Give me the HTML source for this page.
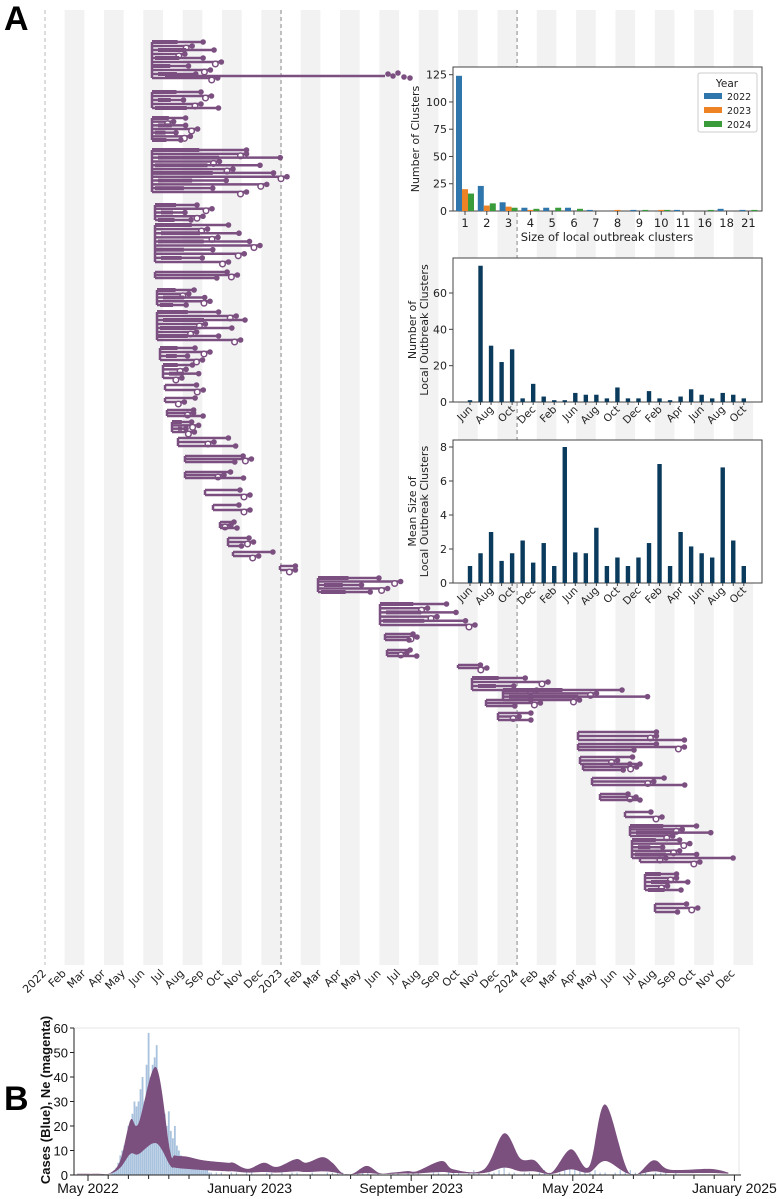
<!DOCTYPE html>
<html><head><meta charset="utf-8"><style>
html,body{margin:0;padding:0;background:#fff;}
svg{display:block;font-family:"DejaVu Sans","Liberation Sans",sans-serif;}
</style></head><body>
<svg id="fig" width="777" height="1199" viewBox="0 0 777 1199" xmlns="http://www.w3.org/2000/svg">
<g id="stripes"></g>
<g id="tree"></g>
<g id="treeAxis"></g>
<text x="4" y="30" font-family="Liberation Sans, sans-serif" font-weight="bold" font-size="34">A</text>
<text x="4" y="1110" font-family="Liberation Sans, sans-serif" font-weight="bold" font-size="34">B</text>
<g id="inset1"></g>
<g id="inset2"></g>
<g id="inset3"></g>
<g id="panelB"></g>
</svg>
<script>
// ---------- Inset 1 data ----------
const sizeCats = ['1','2','3','4','5','6','7','8','9','10','11','16','18','21'];
const count2022 = [124,23,8,3,3,3,1,0,1,0,1,0,2,1];
const count2023 = [20,5,4,1,0,0,0,1,0,1,0,0,0,0];
const count2024 = [16,7,3,2,3,2,0,0,1,1,0,1,0,1];
const sizeTicks = [0,25,50,75,100,125];
// ---------- Inset 2/3 data ----------
const monthCats = ['Jun','Jul','Aug','Sep','Oct','Nov','Dec','Jan','Feb','Apr','Jun','Jul','Aug','Sep','Oct','Nov','Dec','Jan','Feb','Mar','Apr','May','Jun','Jul','Aug','Sep','Oct'];
const clusterCounts = [1,75,31,22,29,2,10,3,1,1,5,4,4,2,8,2,2,6,2,1,3,7,4,2,5,4,2];
const meanSizes = [1,1.75,3,1.3,1.75,2.5,1.2,2.35,1,8,1.8,1.75,3.25,1,1.5,1,1.5,2.35,7,1,3,2.15,1.75,1.5,6.8,2.5,1];
const countTicks = [0,20,40,60];
const meanTicks = [0,2,4,6,8];
// ---------- Panel B data (t = months since May 2022) ----------
const neT =     [-0.7,0.5,1.1,1.6,2.1,2.5,3.37,4.06,4.3,4.9,5.7,6.9,7.2,7.9,8.7,9.35,10.3,10.8,11.6,12.1,12.6,13.1,13.8,14.45,15.1,15.8,16.3,17.5,18.1,19.6,20.6,21.4,22.1,22.9,23.9,24.8,25.6,26.8,28.0,28.8,30.8,31.7];
const neUpper = [0.5,0.5,0.8,6,22.4,21,44,10,8,7.5,6,5,5,2.5,5,3.3,6.5,5,7.3,5,0.7,0.5,3.7,0.7,1,1.6,1.6,5.7,2.3,2.3,17,6.8,6,0.8,10.5,3.4,28.8,0.8,6,2.2,2.5,1];
const neLower = [0.3,0.3,0.5,3,8.6,8.5,13,4,3,2.5,2,1.5,1.5,1,1.2,1,1.5,1.2,1.5,1.2,0.4,0.3,0.8,0.4,0.5,0.6,0.6,1.2,0.8,0.8,3,1.5,1.5,0.4,2.3,1,5.7,0.4,1.5,0.8,0.8,0.5];
const caseStart = 1.2, caseStep = 0.1;
const caseValues = [1,2,3,5,8,10,12,14,20,18,25,30,28,30,35,40,30,45,58,40,45,48,53,35,30,28,25,20,26,18,15,20,12,10,8,7,6,5,5,4,4,3,3,3,2,2,2,2,1];
const lateStart = 6.1, lateStep = 0.25;
const lateCases = [1,1,1,0,1,1,0,1,1,0,0,1,1,0,1,0,1,1,0,0,1,0,0,1,1,2,1,0,0,1,1,1,0,1,0,0,1,1,0,1,1,1,0,0,1,1,0,2,1,1,0,1,2,1,0,1,1,2,3,1,1,0,1,1,0,1,2,1,0,1,2,3,4,2,1,1,2,1,1,0,1,2,1,2,1,1,1,0,1,1,1,0,1,0,0];
const neTicks = [0,10,20,30,40,50,60];
const dateLabels = ['May 2022','January 2023','September 2023','May 2024','January 2025'];
const dateLabelT = [0,8,16,24,32];
// ---------- Tree data: [yTop, yBottom, rootX, maxTipX] ----------
const clusters = [[42,78,152,225],[92,108,152,222],[118,140,152,200],[150,192,152,287],[205,220,155,215],[225,262,155,260],[272,278,155,258],[290,305,157,210],[312,340,157,245],[348,360,160,210],[365,378,163,205],[385,390,165,210],[398,402,165,208],[410,416,167,205],[422,432,172,200],[438,446,178,250],[456,462,185,268],[472,478,185,250],[490,495,205,255],[505,510,213,250],[522,528,220,240],[538,546,228,258],[552,556,233,290],[566,570,280,302],[578,592,318,405],[604,625,380,475],[634,640,385,425],[650,656,387,420],[665,668,458,490],[678,690,472,548],[690,700,503,673],[700,706,486,550],[713,720,498,545],[732,740,578,690],[744,750,578,690],[757,764,580,655],[764,770,583,650],[778,785,592,695],[794,800,600,640],[812,817,625,662],[826,836,630,725],[840,858,632,700],[858,862,640,773],[874,890,645,690],[904,912,655,700]];
const treeMonths = ['2022','Feb','Mar','Apr','May','Jun','Jul','Aug','Sep','Oct','Nov','Dec','2023','Feb','Mar','Apr','May','Jun','Jul','Aug','Sep','Oct','Nov','Dec','2024','Feb','Mar','Apr','May','Jun','Jul','Aug','Sep','Oct','Nov','Dec'];

const NS='http://www.w3.org/2000/svg';
function mk(tag,attrs,parent,text){const e=document.createElementNS(NS,tag);for(const k in attrs)e.setAttribute(k,attrs[k]);if(text!==undefined)e.textContent=text;parent.appendChild(e);return e;}

// ---------- stripes & tree axis ----------
const mx = m => 45 + m*19.67;
const stripes=document.getElementById('stripes');
for(let i=0;i<36;i++){ if(i%2===1){ const r=mk('rect',{x:mx(i),y:10,width:19.67,height:955,fill:'#f2f2f2'},stripes);

}}
[[0,'#bbb'],[12,'#888'],[24,'#888']].forEach(d=>{const l=mk('line',{x1:mx(d[0]),x2:mx(d[0]),y1:10,y2:965,stroke:d[1],'stroke-width':1,'stroke-dasharray':'4,3'},stripes);

});
const tAx=document.getElementById('treeAxis');
treeMonths.forEach((m,i)=>{const x=mx(i)+2;const t=mk('text',{x:x,y:974,'font-size':11,fill:'#222','text-anchor':'end',transform:`rotate(-45 ${x} 974)`},tAx,m);

});

// ---------- tree ----------
const tree=document.getElementById('tree');
const C='#7b4f80';
const pat=[1,0.55,0.85,0.45,0.7,0.95,0.5,0.8,0.6,0.9];
clusters.forEach((c,ci)=>{
  const [y0,y1,x0,x1]=c; const g=mk('g',{},tree);
  
  
  const n=Math.max(2,Math.round((y1-y0)/4)+1);
  mk('line',{x1:x0,x2:x0,y1:y0,y2:y1,stroke:C,'stroke-width':2.5},g);
  for(let i=0;i<n;i++){
    const y=y0+(y1-y0)*i/(n-1);
    const f=i===0?0.7:pat[(i+ci)%pat.length];
    const xs=x0+(i%3)*3;
    const xe=x0+(x1-x0)*f;
    mk('line',{x1:x0,x2:xe,y1:y,y2:y,stroke:C,'stroke-width':2.5},g);
    if(i%2===0 && n>3) mk('rect',{x:xs,y:y-2,width:(xe-xs)*0.5,height:4,fill:C},g);
    mk('circle',{cx:xe,cy:y,r:2.8,fill:C},g);
    if(i%2===1) mk('circle',{cx:xe-6,cy:y+2,r:2.8,fill:'#fff',stroke:C,'stroke-width':1.5},g);
  }
});
mk('line',{x1:165,x2:385,y1:76,y2:76,stroke:C,'stroke-width':2.5},tree);
[[388,74],[393,76],[398,73],[404,77],[410,78]].forEach(p=>mk('circle',{cx:p[0],cy:p[1],r:2.8,fill:C},tree));

function axesBox(g,x0,y0,x1,y1){mk('rect',{x:x0,y:y0,width:x1-x0,height:y1-y0,fill:'#fff',stroke:'#444','stroke-width':1},g);}
// Inset 1
(function(){
  const g=document.getElementById('inset1');
  const X0=453,X1=762,Y0=67,Y1=211;
  axesBox(g,X0,Y0,X1,Y1);
  const yv=v=>Y1-(v/125)*(Y1-74.7);
  const cx=i=>465+i*21.8;
  sizeTicks.forEach(t=>{mk('line',{x1:X0-4,x2:X0,y1:yv(t),y2:yv(t),stroke:'#444'},g);
   const tl=mk('text',{x:X0-6,y:yv(t)+4,'font-size':11,'text-anchor':'end',fill:'#222'},g,t);
   
   });
  const series=[[count2022,'#2f76ad'],[count2023,'#ee8326'],[count2024,'#3a9b3a']];
  sizeCats.forEach((c,i)=>{
    series.forEach((s,k)=>{const v=s[0][i];const b=mk('rect',{x:cx(i)-9+k*6,y:yv(v),width:6,height:Y1-yv(v),fill:s[1]},g);
      
      });
    mk('line',{x1:cx(i),x2:cx(i),y1:Y1,y2:Y1+4,stroke:'#444'},g);
    const tl=mk('text',{x:cx(i),y:Y1+16,'font-size':11.5,'text-anchor':'middle',fill:'#222'},g,c);
    
    
  });
  const xl=mk('text',{x:607,y:241,'font-size':11.5,'text-anchor':'middle',fill:'#222'},g,'Size of local outbreak clusters');
  
  
  const yl=mk('text',{x:419,y:139,'font-size':11,'text-anchor':'middle',fill:'#222',transform:'rotate(-90 419 139)'},g,'Number of Clusters');
  
  
  const lg=mk('g',{},g);
  
  
  mk('rect',{x:698,y:73,width:59,height:59,fill:'#fff',stroke:'#ccc',rx:2},lg);
  mk('text',{x:727,y:87,'font-size':10.5,'text-anchor':'middle',fill:'#222'},lg,'Year');
  ['2022','2023','2024'].forEach((y,k)=>{mk('rect',{x:704,y:93+k*14,width:18,height:6,fill:series[k][1]},lg);
    const t=mk('text',{x:727,y:100+k*14,'font-size':9.5,fill:'#222'},lg,y);
    
    });
})();
function monthChart(id,vals,ticks,maxV,Y0,Y1,topPx,lab1,lab2){
  const g=document.getElementById(id);
  const X0=453,X1=762;
  axesBox(g,X0,Y0,X1,Y1);
  const yv=v=>Y1-(v/maxV)*(Y1-topPx);
  const cx=i=>470+i*10.53;
  ticks.forEach(t=>{mk('line',{x1:X0-4,x2:X0,y1:yv(t),y2:yv(t),stroke:'#444'},g);
    const tl=mk('text',{x:X0-6,y:yv(t)+4,'font-size':11,'text-anchor':'end',fill:'#222'},g,t);
    
    });
  vals.forEach((v,i)=>{const b=mk('rect',{x:cx(i)-2.2,y:yv(v),width:4.4,height:Y1-yv(v),fill:'#0a3a5c'},g);
    
    
    mk('line',{x1:cx(i),x2:cx(i),y1:Y1,y2:Y1+3,stroke:'#444'},g);
    if(i%2===0){const x=cx(i)+3,y=Y1+8;const tl=mk('text',{x:x,y:y,'font-size':10.5,'text-anchor':'end',fill:'#222',transform:`rotate(-45 ${x} ${y})`},g,monthCats[i]);
      
      }
  });
  const cy=(Y0+Y1)/2;
  const a=mk('text',{x:416,y:cy,'font-size':11,'text-anchor':'middle',fill:'#222',transform:`rotate(-90 416 ${cy})`},g,lab1);
  
  
  const b=mk('text',{x:428,y:cy,'font-size':11,'text-anchor':'middle',fill:'#222',transform:`rotate(-90 428 ${cy})`},g,lab2);
  
  
}
monthChart('inset2',clusterCounts,countTicks,60,258,402,293,'Number of','Local Outbreak Clusters');
monthChart('inset3',meanSizes,meanTicks,8,440,583,447,'Mean Size of','Local Outbreak Clusters');

// ---------- Panel B ----------
(function(){
  const g=document.getElementById('panelB');
  const X0=74,X1=739,Y0=1028,Y1=1175;
  const xt=t=>88+t*20.2;
  const yv=v=>Y1-v*(Y1-Y0)/60;
  mk('rect',{x:X0,y:Y0,width:X1-X0,height:Y1-Y0,fill:'#fff',stroke:'#e4e4e4'},g);
  caseValues.forEach((v,i)=>{if(v<=0)return;const x=xt(caseStart+i*caseStep);const b=mk('rect',{x:x-0.9,y:yv(v),width:1.8,height:Y1-yv(v),fill:'#a9c2dd'},g);
    
    });
  lateCases.forEach((v,i)=>{if(v<=0)return;const x=xt(lateStart+i*lateStep);const b=mk('rect',{x:x-0.6,y:yv(v),width:1.2,height:Y1-yv(v),fill:'#a9c2dd'},g);
    
    });
  function path(ts,vs){const p=ts.map((t,i)=>[Math.max(X0+3,xt(t)),yv(vs[i])]);let d='';
    for(let i=0;i<p.length-1;i++){const p0=p[Math.max(0,i-1)],p1=p[i],p2=p[i+1],p3=p[Math.min(p.length-1,i+2)];
      const c1=[p1[0]+(p2[0]-p0[0])/6,p1[1]+(p2[1]-p0[1])/6],c2=[p2[0]-(p3[0]-p1[0])/6,p2[1]-(p3[1]-p1[1])/6];
      if(i===0)d+=`M${p1[0]},${p1[1]}`;d+=`C${c1[0]},${c1[1]} ${c2[0]},${c2[1]} ${p2[0]},${p2[1]}`;}
    return d;}
  const up=path(neT,neUpper);
  const rt=neT.slice().reverse(), rl=neLower.slice().reverse();
  const lo=path(rt,rl).replace(/^M/,'L');
  const band=mk('path',{d:up+lo+'Z',fill:'#7b507f'},g);
  
  
  mk('line',{x1:X0,x2:X0,y1:Y0,y2:Y1,stroke:'#222'},g);
  mk('line',{x1:X0,x2:X1+2,y1:Y1,y2:Y1,stroke:'#222'},g);
  neTicks.forEach(t=>{mk('line',{x1:X0-4,x2:X0,y1:yv(t),y2:yv(t),stroke:'#222'},g);
    const tl=mk('text',{x:X0-6,y:yv(t)+5,'font-size':13,'text-anchor':'end',fill:'#111','font-family':'Liberation Sans Narrow, Liberation Sans, sans-serif'},g,t);
    
    });
  for(let m=0;m<=32;m++){mk('line',{x1:xt(m),x2:xt(m),y1:Y1,y2:Y1+(m%8===0?6:4),stroke:'#222'},g);}
  dateLabels.forEach((l,i)=>{const tl=mk('text',{x:xt(dateLabelT[i]),y:1193,'font-size':14,'text-anchor':'middle',fill:'#111','font-family':'Liberation Sans Narrow, Liberation Sans, sans-serif'},g,l);
    
    });
  const yl=mk('text',{x:50,y:1100,'font-size':13,'font-weight':'bold','text-anchor':'middle',fill:'#111',transform:'rotate(-90 50 1100)','font-family':'Liberation Sans, sans-serif'},g,'Cases (Blue), Ne (magenta)');
  
  
})();
</script>
</body></html>
